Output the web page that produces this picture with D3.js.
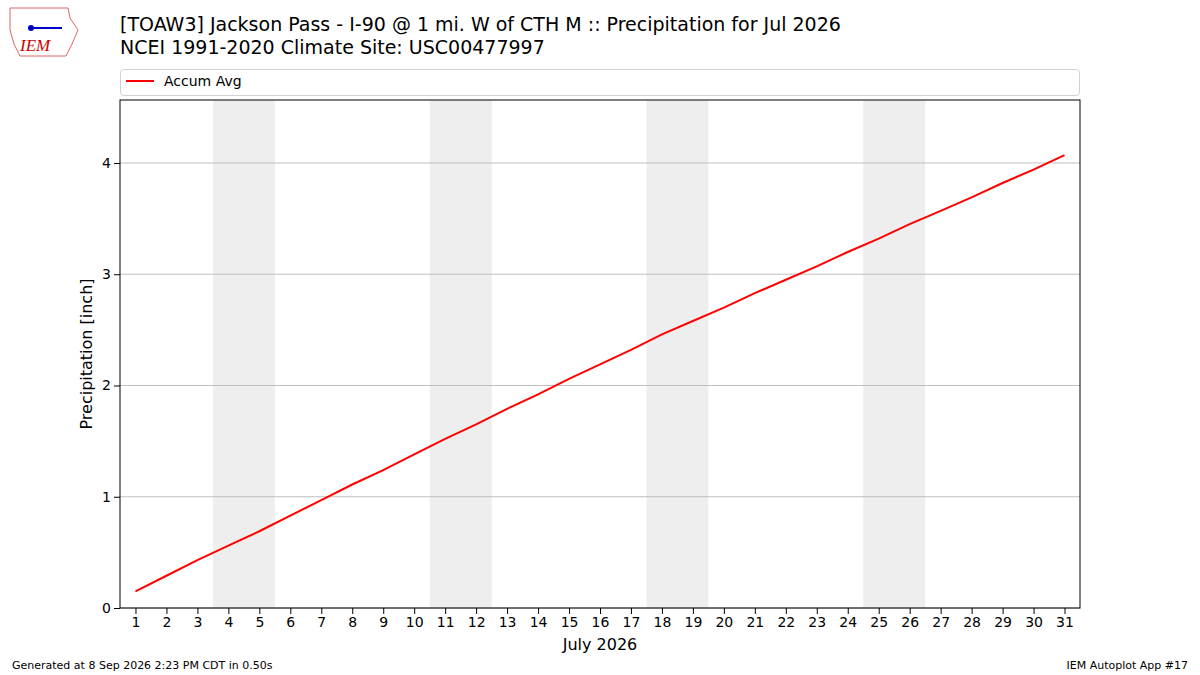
<!DOCTYPE html>
<html><head><meta charset="utf-8">
<script src="https://cdn.jsdelivr.net/npm/d3@7"></script>
<style>body{margin:0;background:#fff}</style>
</head><body>
<script>
const days = d3.range(1, 32);
const accumAvg = [0.15,0.29,0.43,0.56,0.69,0.83,0.97,1.11,1.24,1.38,1.52,1.65,1.79,1.92,2.06,2.19,2.32,2.46,2.58,2.70,2.83,2.95,3.07,3.20,3.32,3.45,3.57,3.69,3.82,3.94,4.07];
const weekends = [[3.5,5.5],[10.5,12.5],[17.5,19.5],[24.5,26.5]];
const yTicks = [0,1,2,3,4];

const width = 1200, height = 675;
const margin = {top: 100, right: 120, bottom: 67, left: 120};
const font = 'DejaVu Sans, sans-serif';

const svg = d3.select('body').append('svg')
  .attr('width', width).attr('height', height)
  .style('font-family', font);

const x = d3.scaleLinear().domain([0.5, 31.5]).range([margin.left, width - margin.right]);
const y = d3.scaleLinear().domain([0, 4.566]).range([height - margin.bottom, margin.top]);

// weekend bands
svg.append('g').selectAll('rect').data(weekends).enter().append('rect')
  .attr('x', d => x(d[0])).attr('width', d => x(d[1]) - x(d[0]))
  .attr('y', margin.top).attr('height', y(0) - margin.top)
  .attr('fill', '#eeeeee');

// grid
svg.append('g').selectAll('line').data(yTicks).enter().append('line')
  .attr('x1', margin.left).attr('x2', width - margin.right)
  .attr('y1', d => y(d)).attr('y2', d => y(d))
  .attr('stroke', '#b0b0b0').attr('stroke-width', 0.8);

// line
svg.append('path')
  .datum(days.map((d, i) => [d, accumAvg[i]]))
  .attr('fill', 'none').attr('stroke', 'red').attr('stroke-width', 2)
  .attr('d', d3.line().x(d => x(d[0])).y(d => y(d[1])));

// frame
svg.append('rect')
  .attr('x', margin.left).attr('y', margin.top)
  .attr('width', width - margin.left - margin.right)
  .attr('height', y(0) - margin.top)
  .attr('fill', 'none').attr('stroke', '#000').attr('stroke-width', 1);

// axes
svg.append('g')
  .attr('transform', `translate(0, ${y(0)})`)
  .call(d3.axisBottom(x).tickValues(days).tickFormat(d3.format('d')).tickSizeOuter(0))
  .call(g => g.select('.domain').remove())
  .call(g => g.selectAll('text').attr('font-size', 14).attr('font-family', font).attr('fill', '#000'));

svg.append('g')
  .attr('transform', `translate(${margin.left}, 0)`)
  .call(d3.axisLeft(y).tickValues(yTicks).tickFormat(d3.format('d')).tickSizeOuter(0))
  .call(g => g.select('.domain').remove())
  .call(g => g.selectAll('text').attr('font-size', 14).attr('font-family', font).attr('fill', '#000'));

svg.append('text').attr('x', x(16)).attr('y', 650).attr('text-anchor', 'middle')
  .attr('font-size', 16).text('July 2026');
svg.append('text').attr('transform', `translate(92, ${(margin.top + y(0)) / 2}) rotate(-90)`)
  .attr('text-anchor', 'middle').attr('font-size', 16).text('Precipitation [inch]');

// legend
svg.append('rect').attr('x', 120.5).attr('y', 69.5).attr('width', 959).attr('height', 26).attr('rx', 3)
  .attr('fill', '#fff').attr('stroke', '#d0d0d0');
svg.append('line').attr('x1', 126).attr('x2', 154).attr('y1', 81).attr('y2', 81)
  .attr('stroke', 'red').attr('stroke-width', 2);
svg.append('text').attr('x', 164).attr('y', 86).attr('font-size', 14).text('Accum Avg');

// titles
svg.append('text').attr('x', 120).attr('y', 31).attr('font-size', 19)
  .text('[TOAW3] Jackson Pass - I-90 @ 1 mi. W of CTH M :: Precipitation for Jul 2026');
svg.append('text').attr('x', 120).attr('y', 54).attr('font-size', 19)
  .text('NCEI 1991-2020 Climate Site: USC00477997');

// footer
svg.append('text').attr('x', 12).attr('y', 669).attr('font-size', 11).text('Generated at 8 Sep 2026 2:23 PM CDT in 0.50s');
svg.append('text').attr('x', 1188).attr('y', 669).attr('font-size', 11).attr('text-anchor', 'end').text('IEM Autoplot App #17');

// logo
const logo = svg.append('g');
logo.append('path').attr('d', 'M10,8 L68,8 L70,18 L78,30 L72,44 L66,56 L20,56 L14,44 L10,30 Z')
  .attr('fill', 'none').attr('stroke', '#d66').attr('stroke-width', 1);
logo.append('line').attr('x1', 28).attr('x2', 62).attr('y1', 28).attr('y2', 28).attr('stroke', '#00c').attr('stroke-width', 2);
logo.append('circle').attr('cx', 31).attr('cy', 28).attr('r', 3).attr('fill', '#00c');
logo.append('text').attr('x', 20).attr('y', 51).attr('font-size', 17).attr('font-style', 'italic')
  .attr('font-family', 'Liberation Serif, serif').attr('fill', '#c00').text('IEM');
</script>
</body></html>
